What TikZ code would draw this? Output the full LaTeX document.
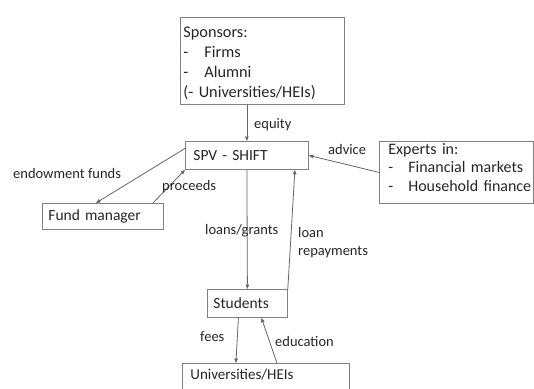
\documentclass[tikz,border=0pt]{standalone}
\usepackage{fontspec}
\setmainfont{Carlito}
\usetikzlibrary{arrows.meta}
\begin{document}
\begin{tikzpicture}[x=1pt,y=-1pt,
 box/.style={draw=black!50, line width=0.8pt, rectangle, anchor=north west, align=left, inner ysep=0pt, font=\fontsize{15.5}{19.5}\selectfont, text=black!85},
 lbl/.style={anchor=west, inner sep=0pt, align=left, font=\fontsize{14.5}{18}\selectfont, text=black!85},
 arr/.style={draw=black!60, line width=0.8pt, -{Triangle[length=4.5pt,width=3.5pt]}}]
\useasboundingbox (0,0) rectangle (534,388);
\fill[white] (0,0) rectangle (534,388);
% boxes
\node[box, minimum width=164pt, minimum height=87pt, text width=158pt, inner xsep=3pt, font=\fontsize{16.3}{20}\selectfont] (spon) at (180,17)
  {\rule{0pt}{16pt}Sponsors:\\-\hspace{16pt}Firms\\-\hspace{16pt}Alumni\\(- Universities/HEIs)};
\node[box, minimum width=123pt, minimum height=28pt, text width=107pt, inner xsep=8pt, font=\fontsize{15.5}{18}\selectfont] (spv) at (185,141) {SPV - SHIFT};
\node[box, minimum width=121pt, minimum height=26pt, text width=109pt, inner xsep=6pt] (fund) at (42,203) {Fund manager};
\node[box, minimum width=154pt, minimum height=62pt, text width=136pt, inner xsep=9pt, font=\fontsize{16}{18.5}\selectfont] (exp) at (379,141)
  {\mbox{Experts in:}\\\mbox{-\hspace{15pt}Financial markets}\\\mbox{-\hspace{15pt}Household finance}\rule[-10pt]{0pt}{1pt}};
\node[box, minimum width=80pt, minimum height=28pt, text width=68pt, inner xsep=6pt] (stu) at (207,289) {Students};
\node[box, minimum width=167pt, text width=151pt, inner xsep=6pt, inner ysep=3pt, text height=13pt, text depth=14pt, font=\fontsize{15}{18}\selectfont] (uni) at (182,363) {Universities/HEIs};
% connectors
\draw[arr] (spon.south -| spv.north) -- (spv.north);
\draw[arr] ([yshift=7pt]spv.west) -- ([xshift=-7pt]fund.north);
\draw[arr] ([xshift=50pt]fund.north) -- (spv.south west);
\draw[arr] (exp.west) -- (spv.east);
\draw[arr] (spv.south) -- (stu.north);
\draw[arr] (stu.north east) -- ([xshift=48pt]spv.south);
\draw[arr] ([xshift=-9pt]stu.south) -- ([xshift=-30pt]uni.north);
\draw[arr] ([xshift=11pt]uni.north) -- ([xshift=14pt]stu.south);
% labels
\node[lbl] (leq) at (254,125) {equity};
\node[lbl] (lend) at (13,174) {endowment funds};
\node[lbl] (lpro) at (162,187) {proceeds};
\node[lbl] (ladv) at (328,150) {advice};
\node[lbl] (lloan) at (205,231) {loans/grants};
\node[lbl] (lrep) at (298,243) {loan\\repayments};
\node[lbl] (lfee) at (200,337) {fees};
\node[lbl] (ledu) at (275,342) {education};
\end{tikzpicture}
\end{document}
